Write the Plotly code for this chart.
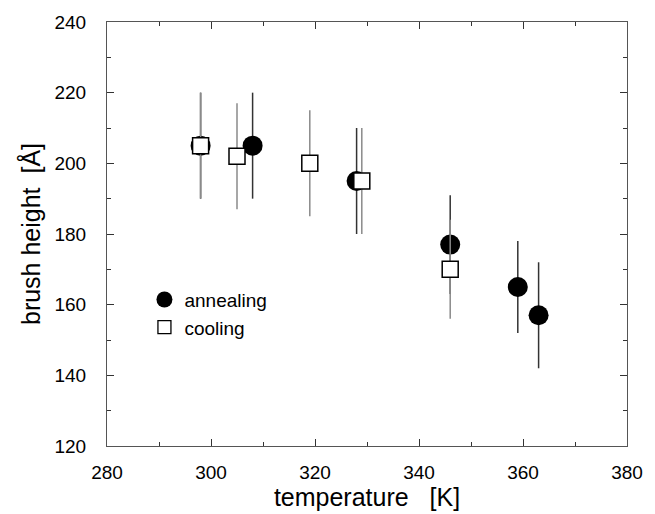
import plotly.graph_objects as go

# annealing data
anneal_T = [298, 308, 328, 346, 359, 363]
anneal_h = [205, 205, 195, 177, 165, 157]
anneal_err = [15, 15, 15, 14, 13, 15]

# cooling data
cool_T = [298, 305, 319, 329, 346]
cool_h = [205, 202, 200, 195, 170]
cool_err = [15, 15, 15, 15, 14]

x_label = "temperature\u00a0\u00a0\u00a0[K]"
y_label = "brush height\u00a0\u00a0[Å]"
legend_names = ["annealing", "cooling"]

FONT = "Liberation Sans, Arial, Helvetica, sans-serif"

fig = go.Figure()

fig.add_trace(go.Scatter(
    x=anneal_T, y=anneal_h, mode="markers", showlegend=False,
    marker=dict(symbol="circle", size=20, color="black"),
    error_y=dict(type="data", array=anneal_err, visible=True,
                 color="#333333", thickness=1.5, width=0),
))
fig.add_trace(go.Scatter(
    x=cool_T, y=cool_h, mode="markers", showlegend=False,
    marker=dict(symbol="square", size=16, color="white",
                line=dict(color="black", width=1.5)),
    error_y=dict(type="data", array=cool_err, visible=True,
                 color="#8a8a8a", thickness=1.5, width=0),
))

# legend entries
fig.add_trace(go.Scatter(
    x=[None], y=[None], mode="markers", name=legend_names[0],
    marker=dict(symbol="circle", size=16, color="black"),
))
fig.add_trace(go.Scatter(
    x=[None], y=[None], mode="markers", name=legend_names[1],
    marker=dict(symbol="square", size=13, color="white",
                line=dict(color="black", width=1.3)),
))

axis_common = dict(
    showgrid=False, zeroline=False, showline=True, linecolor="#555555",
    linewidth=1, mirror="ticks", ticks="inside", ticklen=7, tickwidth=1,
    tickcolor="#333333",
    tickfont=dict(family=FONT, size=19, color="black"),
    title_font=dict(family=FONT, size=25, color="black"),
)

fig.update_xaxes(
    range=[280, 380], dtick=20, tick0=280,
    minor=dict(ticks="inside", ticklen=4, dtick=10, tickcolor="#333333"),
    title_text=x_label, title_standoff=2, ticklabelstandoff=9,
    **axis_common,
)
fig.update_yaxes(
    range=[120, 240], dtick=20, tick0=120,
    minor=dict(ticks="inside", ticklen=4, dtick=10, tickcolor="#333333"),
    title_text=y_label, title_standoff=6, ticklabelstandoff=16,
    **axis_common,
)

fig.update_layout(
    width=655, height=514,
    margin=dict(l=107, r=21, t=19, b=60),
    paper_bgcolor="white", plot_bgcolor="white",
    font=dict(family=FONT, color="black"),
    legend=dict(x=0.072, y=0.39, xanchor="left", yanchor="top",
                bgcolor="rgba(0,0,0,0)", borderwidth=0,
                font=dict(family=FONT, size=19, color="black"),
                tracegroupgap=0, itemsizing="trace"),
)

fig.write_html("out.html")
